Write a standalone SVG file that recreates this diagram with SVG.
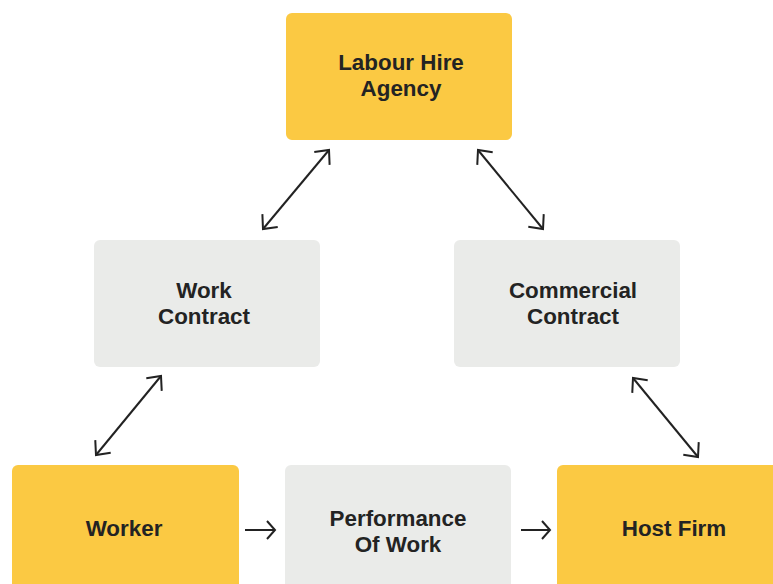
<svg xmlns="http://www.w3.org/2000/svg" width="773" height="584" viewBox="0 0 773 584">
<defs>
<style>
.y{fill:#FBC943}
.g{fill:#EAEBE9}
.t{font-family:"Liberation Sans",Arial,sans-serif;font-weight:700;font-size:22.4px;fill:#232323;text-anchor:middle}
.c{stroke:#222;stroke-width:2;fill:none}
</style>
<marker id="ad" markerUnits="userSpaceOnUse" viewBox="-14 -12 16 24" refX="0" refY="0" markerWidth="16" markerHeight="24" orient="auto-start-reverse">
<path d="M-11,-10 L0,0 L-11,10" fill="none" stroke="#222" stroke-width="2"/>
</marker>
<marker id="ah" markerUnits="userSpaceOnUse" viewBox="-12 -12 14 24" refX="0" refY="0" markerWidth="14" markerHeight="24" orient="auto">
<path d="M-8,-9 L0,0 L-8,9" fill="none" stroke="#222" stroke-width="2"/>
</marker>
</defs>
<rect width="773" height="584" fill="#fff"/>
<g id="connectors">
<line class="c" x1="329" y1="150" x2="263" y2="229" marker-start="url(#ad)" marker-end="url(#ad)"/>
<line class="c" x1="478" y1="150" x2="543" y2="229" marker-start="url(#ad)" marker-end="url(#ad)"/>
<line class="c" x1="161" y1="376" x2="96" y2="455" marker-start="url(#ad)" marker-end="url(#ad)"/>
<line class="c" x1="633" y1="378" x2="698" y2="457" marker-start="url(#ad)" marker-end="url(#ad)"/>
<line class="c" x1="245" y1="530" x2="275" y2="530" marker-end="url(#ah)"/>
<line class="c" x1="521" y1="530" x2="550" y2="530" marker-end="url(#ah)"/>
</g>
<g id="labour-hire-agency">
<rect class="y" x="286" y="13" width="226" height="127" rx="6"/>
<text class="t" x="401" y="70">Labour Hire</text>
<text class="t" x="401" y="96">Agency</text>
</g>
<g id="work-contract">
<rect class="g" x="94" y="240" width="226" height="127" rx="6"/>
<text class="t" x="204" y="298">Work</text>
<text class="t" x="204" y="324">Contract</text>
</g>
<g id="commercial-contract">
<rect class="g" x="454" y="240" width="226" height="127" rx="6"/>
<text class="t" x="573" y="298">Commercial</text>
<text class="t" x="573" y="324">Contract</text>
</g>
<g id="worker">
<rect class="y" x="12" y="465" width="227" height="130" rx="6"/>
<text class="t" x="124" y="536">Worker</text>
</g>
<g id="performance-of-work">
<rect class="g" x="285" y="465" width="226" height="130" rx="6"/>
<text class="t" x="398" y="526">Performance</text>
<text class="t" x="398" y="552">Of Work</text>
</g>
<g id="host-firm">
<rect class="y" x="557" y="465" width="226" height="130" rx="6"/>
<text class="t" x="674" y="536">Host Firm</text>
</g>
</svg>
